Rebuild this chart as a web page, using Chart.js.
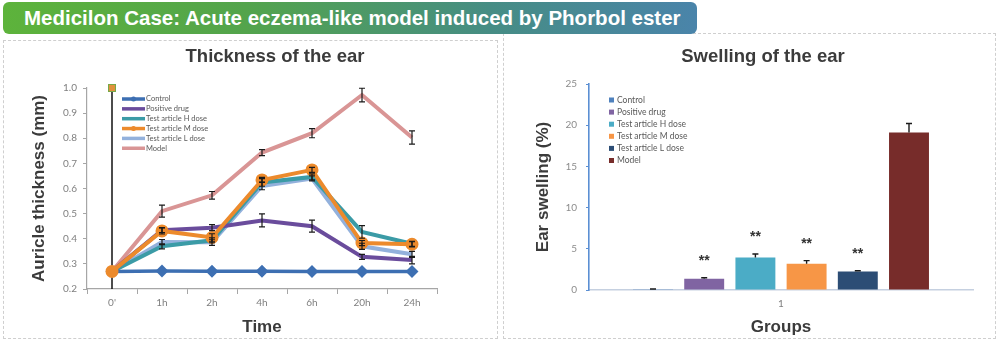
<!DOCTYPE html>
<html>
<head>
<meta charset="utf-8">
<title>Medicilon Case</title>
<script src="https://cdn.jsdelivr.net/npm/chart.js@4.4.0/dist/chart.umd.min.js"></script>
<style>
    html, body { margin: 0; padding: 0; width: 1000px; height: 344px; overflow: hidden; background: #fff; }
    .banner {
        position: absolute; left: 3px; top: 2px; width: 694px; height: 32px;
        box-sizing: border-box; padding-left: 21px; border-radius: 6px; z-index: 3;
        background: linear-gradient(90deg, #5db33b 0%, #53a44c 35%, #468d84 70%, #4a84aa 100%);
        color: #fff; font: bold 20.5px "Liberation Sans", Arial, sans-serif; line-height: 31px; white-space: nowrap;
    }
    .panel { position: absolute; box-sizing: border-box; border: 1px dashed #cfcfcf; }
    canvas { position: absolute; top: 37px; }
    #thick { left: 4px; z-index: 1; }
    #swell { left: 504px; z-index: 2; }
</style>
</head>
<body>
<div class="banner">Medicilon Case: Acute eczema-like model induced by Phorbol ester</div>
<div class="panel" style="left:3px; top:40px; width:495px; height:299px;"></div>
<div class="panel" style="left:503px; top:33px; width:493px; height:306px;"></div>
<canvas id="thick" width="542" height="307"></canvas>
<canvas id="swell" width="518" height="307"></canvas>

<script>
// ---- data ----
const timeLabels = ["0'", '1h', '2h', '4h', '6h', '20h', '24h'];
const groupNames = ['Control', 'Positive drug', 'Test article H dose', 'Test article M dose', 'Test article L dose', 'Model'];

// auricle thickness (mm) per time point
const controlMm  = [0.27, 0.272, 0.271, 0.271, 0.270, 0.270, 0.270];
const positiveMm = [0.27, 0.434, 0.444, 0.473, 0.450, 0.328, 0.315];
const highMm     = [0.27, 0.370, 0.394, 0.624, 0.646, 0.427, 0.380];
const midMm      = [0.27, 0.431, 0.405, 0.634, 0.674, 0.383, 0.378];
const lowMm      = [0.27, 0.387, 0.386, 0.610, 0.640, 0.370, 0.338];
const modelMm    = [0.27, 0.510, 0.573, 0.743, 0.820, 0.972, 0.803];

// error bars (+/-) for the thickness lines
const positiveErr = [0, 0.010, 0.012, 0.026, 0.024, 0.010, 0.015];
const highErr     = [0, 0.010, 0.010, 0.015, 0.012, 0.025, 0.010];
const midErr      = [0, 0.012, 0.015, 0.010, 0.010, 0.010, 0.010];
const lowErr      = [0, 0.010, 0.012, 0.015, 0.010, 0.012, 0.012];
const modelErr    = [0, 0.024, 0.015, 0.012, 0.018, 0.027, 0.026];

const thicknessTicks = { min: 0.2, max: 1.0, step: 0.1 };
const guideSpan = [0.2, 1.0]; // the stray vertical bar at 0'

// ear swelling (%) per group
const swellingCategory = ['1'];
const swellingPct = [0.08, 1.38, 3.95, 3.2, 2.25, 19.1];
const swellingErr = [0.05, 0.10, 0.42, 0.36, 0.08, 1.1];
const swellingSig = ['', '**', '**', '**', '**', ''];
const swellingTicks = { min: 0, max: 25, step: 5 };

const TITLE_FONT = '"Liberation Sans", Arial, sans-serif';
const SMALL_FONT = 'Lato, "Liberation Sans", sans-serif';
Chart.defaults.font.family = SMALL_FONT;

// black error bars drawn through the library scales
const errorBars = {
    id: 'errorBars',
    afterDatasetsDraw(chart, args, o) {
        const { ctx } = chart;
        const y = chart.scales.y;
        ctx.save();
        ctx.strokeStyle = '#1a1a1a';
        ctx.lineWidth = o.width || 1.2;
        chart.data.datasets.forEach((ds, di) => {
            if (!ds.errors) return;
            chart.getDatasetMeta(di).data.forEach((el, i) => {
                const e = ds.errors[i];
                if (!e) return;
                const v = ds.data[i];
                const top = y.getPixelForValue(v + e);
                const bot = o.plusOnly ? el.y : y.getPixelForValue(v - e);
                const w = o.cap || 3;
                ctx.beginPath();
                ctx.moveTo(el.x, top); ctx.lineTo(el.x, bot);
                ctx.moveTo(el.x - w, top); ctx.lineTo(el.x + w, top);
                if (!o.plusOnly) { ctx.moveTo(el.x - w, bot); ctx.lineTo(el.x + w, bot); }
                ctx.stroke();
            });
        });
        ctx.restore();
    }
};

// significance stars above the bars
const sigMarks = {
    id: 'sigMarks',
    afterDatasetsDraw(chart, args, o) {
        const { ctx } = chart;
        const y = chart.scales.y;
        ctx.save();
        ctx.fillStyle = '#333';
        ctx.font = 'bold 14px ' + TITLE_FONT;
        ctx.textAlign = 'center';
        ctx.textBaseline = 'middle';
        chart.data.datasets.forEach((ds, di) => {
            if (!ds.mark) return;
            const el = chart.getDatasetMeta(di).data[0];
            ctx.fillText(ds.mark, el.x, y.getPixelForValue(ds.data[0] + ds.errors[0]) - o.gap);
        });
        ctx.restore();
    }
};

// legend sitting inside the plot, like the Excel original
const cornerLegend = {
    id: 'cornerLegend',
    afterDraw(chart, args, o) {
        const { ctx, chartArea } = chart;
        ctx.save();
        ctx.font = o.size + 'px ' + SMALL_FONT;
        ctx.textBaseline = 'middle';
        chart.data.datasets.forEach((ds, i) => {
            const x0 = chartArea.left + o.left;
            const yy = chartArea.top + o.top + i * o.row;
            if (o.kind === 'line') {
                ctx.strokeStyle = ds.borderColor;
                ctx.lineWidth = 3.5;
                ctx.beginPath(); ctx.moveTo(x0, yy); ctx.lineTo(x0 + o.sample, yy); ctx.stroke();
                if (ds.pointRadius) {
                    ctx.fillStyle = ds.borderColor;
                    ctx.beginPath(); ctx.arc(x0 + o.sample / 2, yy, 2.5, 0, Math.PI * 2); ctx.fill();
                }
            } else {
                ctx.fillStyle = ds.backgroundColor;
                ctx.fillRect(x0, yy - 2.5, 5, 5);
            }
            ctx.fillStyle = '#595959';
            ctx.fillText(ds.label, x0 + o.text, yy);
        });
        ctx.restore();
    }
};

const startGuide = {
    id: 'startGuide',
    beforeDatasetsDraw(chart, args, o) {
        const { ctx, scales: { x, y } } = chart;
        const px = x.getPixelForValue(0);
        const top = y.getPixelForValue(o.span[1]);
        ctx.save();
        ctx.strokeStyle = '#111';
        ctx.lineWidth = 1.5;
        ctx.beginPath(); ctx.moveTo(px, y.getPixelForValue(o.span[0])); ctx.lineTo(px, top); ctx.stroke();
        ctx.fillStyle = '#e0913c';
        ctx.strokeStyle = '#78a848';
        ctx.lineWidth = 1;
        ctx.fillRect(px - 3.5, top - 3.5, 7, 7);
        ctx.strokeRect(px - 3.5, top - 3.5, 7, 7);
        ctx.restore();
    }
};

// empty right-hand axis that only reserves space, so the title can span the whole canvas
function spacerAxis(width) {
    return {
        position: 'right', display: true,
        afterFit(scale) { scale.width = width; },
        grid: { display: false }, border: { display: false }, ticks: { display: false }
    };
}

function lineSet(i, data, errors, color, extra) {
    return Object.assign({
        label: groupNames[i], data: data, errors: errors,
        borderColor: color, backgroundColor: color,
        borderWidth: 4, pointRadius: 0, tension: 0
    }, extra || {});
}

new Chart(document.getElementById('thick'), {
    type: 'line',
    data: {
        labels: timeLabels,
        datasets: [
            lineSet(0, controlMm, null, '#3d6fb2', { pointStyle: 'rectRot', pointRadius: 4, borderWidth: 3.5 }),
            lineSet(1, positiveMm, positiveErr, '#6a4c9c'),
            lineSet(2, highMm, highErr, '#3b9ba6'),
            lineSet(3, midMm, midErr, '#ec8a2c', { pointStyle: 'circle', pointRadius: 4.5, order: -1 }),
            lineSet(4, lowMm, lowErr, '#93b1dc'),
            lineSet(5, modelMm, modelErr, '#d99595')
        ]
    },
    options: {
        responsive: false,
        animation: false,
        layout: { padding: 0 },
        plugins: {
            legend: { display: false },
            tooltip: { enabled: false },
            title: {
                display: true, text: 'Thickness of the ear', color: '#3b3b3b',
                font: { family: TITLE_FONT, size: 18.5, weight: 'bold' },
                padding: { top: 9, bottom: 19.8 }
            },
            errorBars: { cap: 3, width: 1.2 },
            cornerLegend: { kind: 'line', left: 35, top: 11, row: 9.85, sample: 23, text: 24, size: 7.5 },
            startGuide: { span: guideSpan }
        },
        scales: {
            x: {
                offset: true,
                afterFit(scale) { scale.height = 55; },
                grid: { display: true, offset: true, drawOnChartArea: false, tickLength: 5, color: '#a6a6a6' },
                border: { color: '#a6a6a6', width: 1.2 },
                ticks: { color: '#7f7f7f', font: { size: 10 }, padding: 3 },
                title: {
                    display: true, text: 'Time', color: '#3b3b3b',
                    font: { family: TITLE_FONT, size: 17, weight: 'bold' },
                    padding: { top: 0, bottom: 6 }
                }
            },
            y: {
                min: thicknessTicks.min, max: thicknessTicks.max,
                afterFit(scale) { scale.width = 83; },
                grid: { display: true, drawOnChartArea: false, tickLength: 4, color: '#a6a6a6' },
                border: { color: '#a6a6a6', width: 1.2 },
                ticks: {
                    stepSize: thicknessTicks.step, color: '#7f7f7f', font: { size: 10 }, padding: 6,
                    callback: v => v.toFixed(1)
                },
                title: {
                    display: true, text: 'Auricle thickness (mm)', color: '#3b3b3b',
                    font: { family: TITLE_FONT, size: 17, weight: 'bold' },
                    padding: { top: 24.8, bottom: 0 }
                }
            },
            spacer: spacerAxis(109)
        }
    },
    plugins: [startGuide, errorBars, cornerLegend]
});

const barColors = ['#4f81bd', '#8064a2', '#4bacc6', '#f79646', '#2c4d75', '#772c2a'];

new Chart(document.getElementById('swell'), {
    type: 'bar',
    data: {
        labels: swellingCategory,
        datasets: groupNames.map((name, i) => ({
            label: name,
            data: [swellingPct[i]],
            errors: [swellingErr[i]],
            mark: swellingSig[i],
            backgroundColor: barColors[i],
            categoryPercentage: 0.8,
            barPercentage: 0.78
        }))
    },
    options: {
        responsive: false,
        animation: false,
        layout: { padding: 0 },
        plugins: {
            legend: { display: false },
            tooltip: { enabled: false },
            title: {
                display: true, text: 'Swelling of the ear', color: '#3b3b3b',
                font: { family: TITLE_FONT, size: 18.5, weight: 'bold' },
                padding: { top: 9, bottom: 15.8 }
            },
            errorBars: { plusOnly: true, cap: 3, width: 1.4 },
            sigMarks: { gap: 17 },
            cornerLegend: { kind: 'box', left: 20, top: 16, row: 12.1, text: 8, size: 8.5 }
        },
        scales: {
            x: {
                afterFit(scale) { scale.height = 54; },
                grid: { display: false, drawTicks: false },
                border: { color: '#c5d0e0', width: 1.5 },
                ticks: { color: '#7f7f7f', font: { size: 10 }, padding: 8 },
                title: {
                    display: true, text: 'Groups', color: '#3b3b3b',
                    font: { family: TITLE_FONT, size: 17, weight: 'bold' },
                    padding: { top: 0, bottom: 6 }
                }
            },
            y: {
                min: swellingTicks.min, max: swellingTicks.max,
                afterFit(scale) { scale.width = 85; },
                grid: { display: true, drawOnChartArea: false, tickLength: 3, color: '#5b8fd3' },
                border: { color: '#5b8fd3', width: 1.6 },
                ticks: { stepSize: swellingTicks.step, color: '#8c8c8c', font: { size: 10 }, padding: 9 },
                title: {
                    display: true, text: 'Ear swelling (%)', color: '#3b3b3b',
                    font: { family: TITLE_FONT, size: 17, weight: 'bold' },
                    padding: { top: 28.8, bottom: 0 }
                }
            },
            spacer: spacerAxis(49)
        }
    },
    plugins: [errorBars, sigMarks, cornerLegend]
});
</script>
</body>
</html>
